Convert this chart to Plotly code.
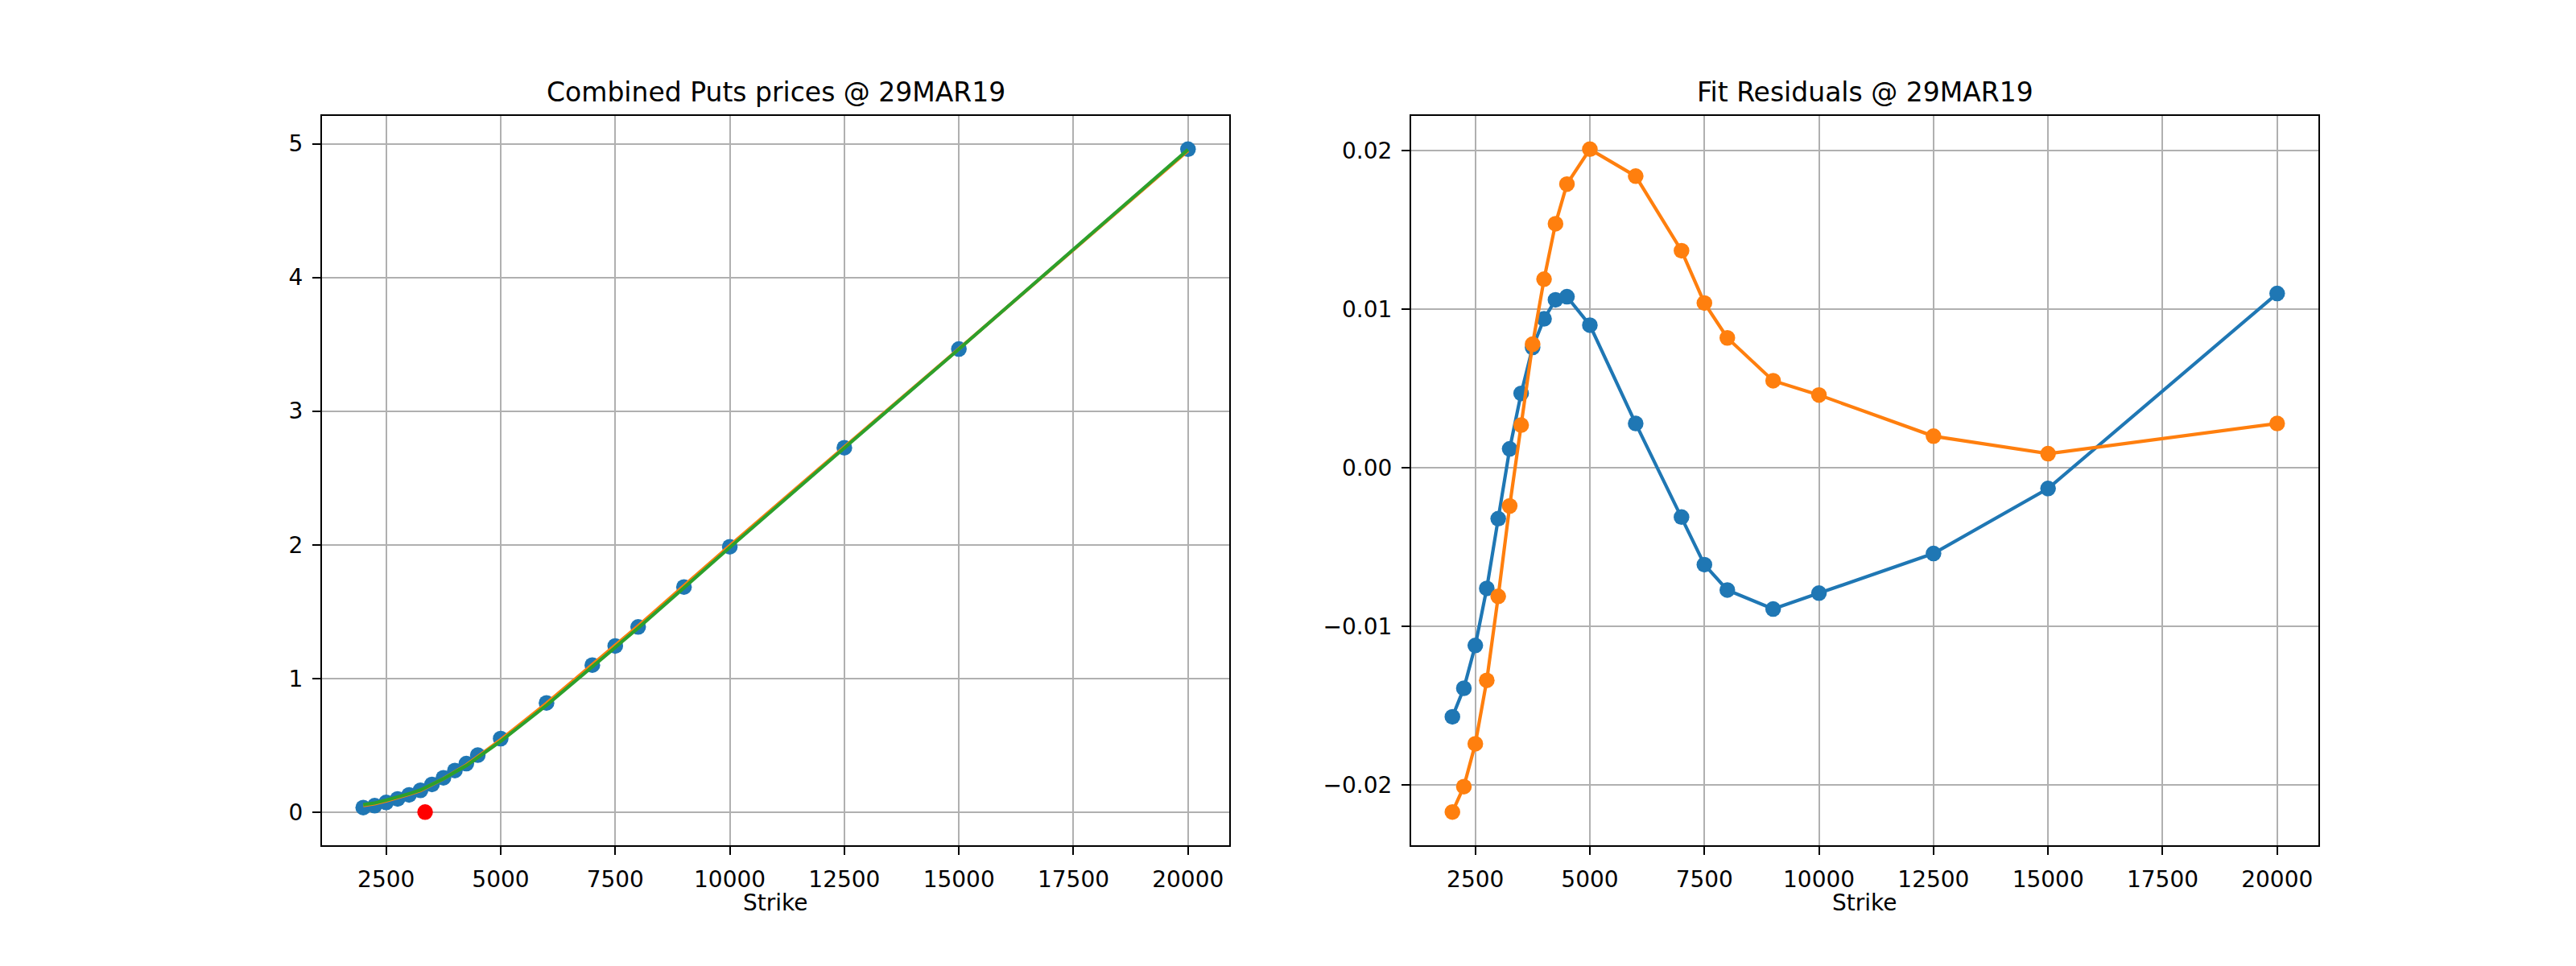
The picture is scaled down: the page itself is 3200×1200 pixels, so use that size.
import plotly.graph_objects as go

# ---------------- data ----------------
strikes = [2000, 2250, 2500, 2750, 3000, 3250, 3500, 3750, 4000, 4250, 4500,
           5000, 6000, 7000, 7500, 8000, 9000, 10000, 12500, 15000, 20000]

put_prices = [0.034, 0.048, 0.072, 0.099, 0.129, 0.163, 0.207, 0.257, 0.311, 0.363, 0.426,
              0.550, 0.817, 1.100, 1.243, 1.385, 1.684, 1.985, 2.726, 3.464, 4.959]

fit_a = [0.0497, 0.0619, 0.0832, 0.1066, 0.1322, 0.1618, 0.2023, 0.2494, 0.3016, 0.3524, 0.4152,
         0.5410, 0.8142, 1.1031, 1.2491, 1.3927, 1.6929, 1.9929, 2.7314, 3.4653, 4.9480]

fit_b = [0.0557, 0.0681, 0.0894, 0.1124, 0.1371, 0.1654, 0.2043, 0.2492, 0.2991, 0.3476, 0.4081,
         0.5299, 0.7986, 1.0863, 1.2326, 1.3768, 1.6785, 1.9804, 2.7240, 3.4631, 4.9562]

spot_x = [3350]
spot_y = [0.0]

resid_a = [-0.0157, -0.0139, -0.0112, -0.0076, -0.0032, 0.0012, 0.0047, 0.0076, 0.0094, 0.0106, 0.0108,
           0.0090, 0.0028, -0.0031, -0.0061, -0.0077, -0.0089, -0.0079, -0.0054, -0.0013, 0.0110]

resid_b = [-0.0217, -0.0201, -0.0174, -0.0134, -0.0081, -0.0024, 0.0027, 0.0078, 0.0119, 0.0154, 0.0179,
           0.0201, 0.0184, 0.0137, 0.0104, 0.0082, 0.0055, 0.0046, 0.0020, 0.0009, 0.0028]

x_ticks = [2500, 5000, 7500, 10000, 12500, 15000, 17500, 20000]
left_y_ticks = [0, 1, 2, 3, 4, 5]
right_y_ticks = [-0.02, -0.01, 0.00, 0.01, 0.02]

title_left = "Combined Puts prices @ 29MAR19"
title_right = "Fit Residuals @ 29MAR19"
x_label = "Strike"

# ---------------- style ----------------
W, H = 3200, 1200
BLUE, ORANGE, GREEN = "#1f77b4", "#ff7f0e", "#2ca02c"
FONT = "DejaVu Sans"
LW = 4.2
MS = 19.5

left_dom = [400 / W, 1527 / W]
right_dom = [1753 / W, 2880 / W]
y_dom = [1 - 1050 / H, 1 - 144 / H]

fig = go.Figure()

# left panel
fig.add_trace(go.Scatter(x=strikes, y=put_prices, mode="markers",
                         marker=dict(color=BLUE, size=MS, line=dict(width=0)),
                         xaxis="x", yaxis="y", showlegend=False))
fig.add_trace(go.Scatter(x=strikes, y=fit_a, mode="lines",
                         line=dict(color=ORANGE, width=LW),
                         xaxis="x", yaxis="y", showlegend=False))
fig.add_trace(go.Scatter(x=strikes, y=fit_b, mode="lines",
                         line=dict(color=GREEN, width=LW),
                         xaxis="x", yaxis="y", showlegend=False))
fig.add_trace(go.Scatter(x=spot_x, y=spot_y, mode="markers",
                         marker=dict(color="red", size=MS, line=dict(width=0)),
                         xaxis="x", yaxis="y", showlegend=False))

# right panel
fig.add_trace(go.Scatter(x=strikes, y=resid_a, mode="lines+markers",
                         line=dict(color=BLUE, width=LW),
                         marker=dict(color=BLUE, size=MS, line=dict(width=0)),
                         xaxis="x2", yaxis="y2", showlegend=False))
fig.add_trace(go.Scatter(x=strikes, y=resid_b, mode="lines+markers",
                         line=dict(color=ORANGE, width=LW),
                         marker=dict(color=ORANGE, size=MS, line=dict(width=0)),
                         xaxis="x2", yaxis="y2", showlegend=False))

axis_common = dict(
    showline=True, mirror=True, linecolor="black", linewidth=2.2,
    showgrid=True, gridcolor="#b0b0b0", gridwidth=2.2,
    zeroline=False,
    ticks="outside", ticklen=10, tickwidth=2.2, tickcolor="black",
    tickfont=dict(family=FONT, size=28, color="black"),
    ticklabelstandoff=6,
)

fig.update_layout(
    width=W, height=H,
    margin=dict(l=0, r=0, t=0, b=0),
    paper_bgcolor="white", plot_bgcolor="white",
    font=dict(family=FONT, color="black"),
    xaxis=dict(domain=left_dom, anchor="y", range=[1100, 20900],
               tickvals=x_ticks, tickformat="d", **axis_common),
    yaxis=dict(domain=y_dom, anchor="x", range=[-0.248, 5.208],
               tickvals=left_y_ticks, tickformat="d", **axis_common),
    xaxis2=dict(domain=right_dom, anchor="y2", range=[1100, 20900],
                tickvals=x_ticks, tickformat="d", **axis_common),
    yaxis2=dict(domain=y_dom, anchor="x2", range=[-0.0238, 0.0222],
                tickvals=right_y_ticks, tickformat=".2f", **axis_common),
)

annotations = []
for dom, t in ((left_dom, title_left), (right_dom, title_right)):
    cx = (dom[0] + dom[1]) / 2
    annotations.append(dict(text=t, x=cx, y=1 - 136 / H, xref="paper", yref="paper",
                            xanchor="center", yanchor="bottom", showarrow=False,
                            font=dict(family=FONT, size=33, color="black")))
    annotations.append(dict(text=x_label, x=cx, y=1 - 1103 / H, xref="paper", yref="paper",
                            xanchor="center", yanchor="top", showarrow=False,
                            font=dict(family=FONT, size=28, color="black")))
fig.update_layout(annotations=annotations)

fig.write_html("out.html")
